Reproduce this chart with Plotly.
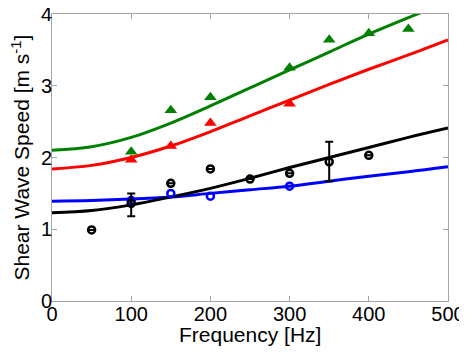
import plotly.graph_objects as go

# Model curves (frequency grid, Hz)
f_line = [0, 50, 100, 150, 200, 250, 300, 350, 400, 450, 500]
green_line = [2.10, 2.15, 2.28, 2.48, 2.72, 2.97, 3.22, 3.47, 3.72, 3.95, 4.17]
red_line = [1.84, 1.89, 2.00, 2.16, 2.36, 2.58, 2.80, 3.02, 3.23, 3.43, 3.64]
black_line = [1.23, 1.26, 1.34, 1.45, 1.57, 1.71, 1.86, 2.00, 2.14, 2.28, 2.41]
blue_line = [1.39, 1.40, 1.42, 1.45, 1.50, 1.55, 1.60, 1.67, 1.74, 1.80, 1.87]

# Measured points
green_f = [100, 150, 200, 300, 350, 400, 450]
green_v = [2.08, 2.66, 2.84, 3.25, 3.64, 3.73, 3.79]
red_f = [100, 150, 200, 300]
red_v = [1.97, 2.16, 2.48, 2.75]
black_f = [50, 100, 150, 200, 250, 300, 350, 400]
black_v = [0.99, 1.36, 1.64, 1.84, 1.70, 1.78, 1.94, 2.03]
black_err_plus = [0, 0.14, 0, 0, 0, 0, 0.28, 0]
black_err_minus = [0, 0.18, 0, 0, 0, 0, 0.27, 0]
blue_f = [100, 150, 200, 300]
blue_v = [1.40, 1.50, 1.46, 1.60]

x_title = "Frequency [Hz]"
y_title = "Shear Wave Speed [m s<sup>-1</sup>]"

GREEN = "#008000"
RED = "#ff0000"
BLACK = "#000000"
BLUE = "#0000ff"
FONT = "Liberation Sans, Arial, sans-serif"

fig = go.Figure()

for y, c in [(green_line, GREEN), (red_line, RED), (blue_line, BLUE), (black_line, BLACK)]:
    fig.add_trace(go.Scatter(x=f_line, y=y, mode="lines", line=dict(color=c, width=3, shape="spline"),
                             showlegend=False, hoverinfo="skip"))

fig.add_trace(go.Scatter(x=green_f, y=green_v, mode="markers",
                         marker=dict(symbol="triangle-up", size=11, color=GREEN), showlegend=False))
fig.add_trace(go.Scatter(x=red_f, y=red_v, mode="markers",
                         marker=dict(symbol="triangle-up", size=11, color=RED), showlegend=False))
fig.add_trace(go.Scatter(x=blue_f, y=blue_v, mode="markers",
                         marker=dict(symbol="circle-open", size=7, color=BLUE, line=dict(width=2.5)),
                         showlegend=False))
fig.add_trace(go.Scatter(x=black_f, y=black_v, mode="markers",
                         marker=dict(symbol="circle-open", size=7, color=BLACK, line=dict(width=2.5)),
                         error_y=dict(type="data", symmetric=False, array=black_err_plus,
                                      arrayminus=black_err_minus, color=BLACK, thickness=2, width=4),
                         showlegend=False))

axis_common = dict(showline=True, linecolor="#a6a6a6", linewidth=1, mirror="ticks",
                   ticks="inside", ticklen=5, tickcolor="#a6a6a6", showgrid=False, zeroline=False,
                   automargin=False, ticklabeloverflow="allow",
                   tickfont=dict(family=FONT, size=20, color="black"))

# page body has an 8px default margin; figure sized/margined to compensate
fig.update_layout(
    width=459, height=344,
    margin=dict(l=44, r=19, t=6, b=51),
    paper_bgcolor="white", plot_bgcolor="white",
    font=dict(family=FONT, size=20, color="black"),
    xaxis=dict(range=[0, 500], tickvals=[0, 100, 200, 300, 400, 500], ticklabelstandoff=-5,
               **axis_common),
    yaxis=dict(range=[0, 4], tickvals=[0, 1, 2, 3, 4], ticklabelstandoff=-5,
               **axis_common),
    annotations=[
        dict(text=x_title, xref="paper", yref="paper", x=0.5, y=0, xanchor="center",
             yanchor="middle", yshift=-33, showarrow=False, font=dict(size=21)),
        dict(text=y_title, xref="paper", yref="paper", x=0, y=0.5, xanchor="center",
             yanchor="middle", xshift=-32, textangle=-90, showarrow=False, font=dict(size=21)),
    ],
)

fig.write_html("out.html")
